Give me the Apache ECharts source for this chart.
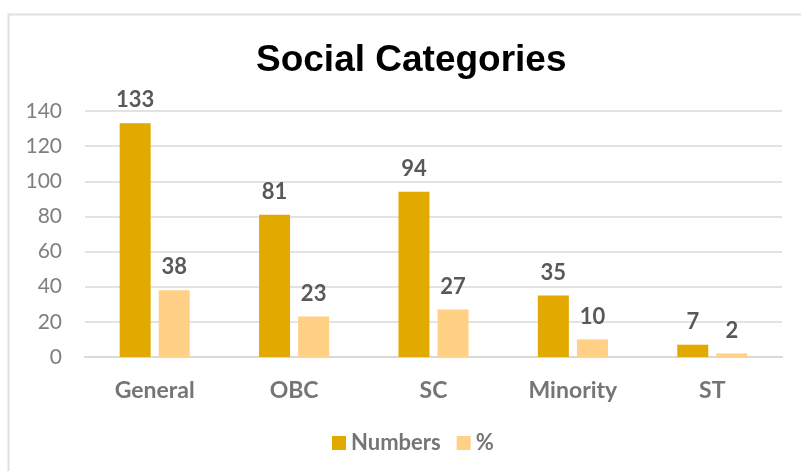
<!DOCTYPE html>
<html>
<head>
<meta charset="utf-8">
<script src="https://cdn.jsdelivr.net/npm/echarts@6/dist/echarts.min.js"></script>
<style>
  html, body { margin: 0; padding: 0; background: #fff; }
  #chart { width: 801px; height: 471px; }
</style>
</head>
<body>
<div id="chart"></div>
<script>
// Social category breakdown: head counts and share in percent
const categories = ['General', 'OBC', 'SC', 'Minority', 'ST'];
const numbers = [133, 81, 94, 35, 7];
const percent = [38, 23, 27, 10, 2];
const yTicks = { min: 0, max: 140, interval: 20 };

const FONT = 'Lato, "Open Sans", sans-serif';

const chart = echarts.init(document.getElementById('chart'), null, { renderer: 'canvas' });

const labelStyle = {
  show: true,
  position: 'top',
  distance: 12,
  color: '#595959',
  fontFamily: FONT,
  fontWeight: 'bold',
  fontSize: 22
};

chart.setOption({
  backgroundColor: '#ffffff',
  animation: false,
  graphic: [{
    type: 'rect',
    shape: { x: 8.5, y: 14.5, width: 820, height: 480 },
    style: { fill: 'none', stroke: '#e0e0e0', lineWidth: 2 },
    silent: true,
    z: -10
  }],
  title: {
    text: 'Social Categories',
    left: 251,
    top: 37,
    textStyle: {
      fontFamily: '"Liberation Sans", Arial, sans-serif',
      fontWeight: 'bold',
      fontSize: 37,
      color: '#000000'
    }
  },
  legend: {
    bottom: 12,
    left: 327,
    itemWidth: 14,
    itemHeight: 14,
    itemGap: 16,
    icon: 'rect',
    textStyle: {
      fontFamily: FONT,
      fontWeight: 'bold',
      fontSize: 22,
      color: '#757575'
    },
    data: ['Numbers', '%']
  },
  grid: { left: 85, right: 19, top: 111, bottom: 114, containLabel: false },
  xAxis: {
    type: 'category',
    data: categories,
    axisLine: { show: true, lineStyle: { color: '#d9d9d9', width: 2 } },
    axisTick: { show: false },
    axisLabel: {
      margin: 22,
      fontFamily: FONT,
      fontWeight: 'bold',
      fontSize: 23,
      color: '#757575'
    }
  },
  yAxis: {
    type: 'value',
    min: yTicks.min,
    max: yTicks.max,
    interval: yTicks.interval,
    axisLine: { show: false },
    axisTick: { show: false },
    splitLine: { lineStyle: { color: '#e3e3e3', width: 2 } },
    axisLabel: {
      margin: 23,
      fontFamily: FONT,
      fontSize: 21,
      color: '#7f7f7f'
    }
  },
  series: [
    {
      name: 'Numbers',
      type: 'bar',
      data: numbers,
      barWidth: 31,
      barGap: '26%',
      itemStyle: { color: '#E2A900' },
      label: labelStyle
    },
    {
      name: '%',
      type: 'bar',
      data: percent,
      barWidth: 31,
      itemStyle: { color: '#FFD085' },
      label: labelStyle
    }
  ]
});
</script>
</body>
</html>
